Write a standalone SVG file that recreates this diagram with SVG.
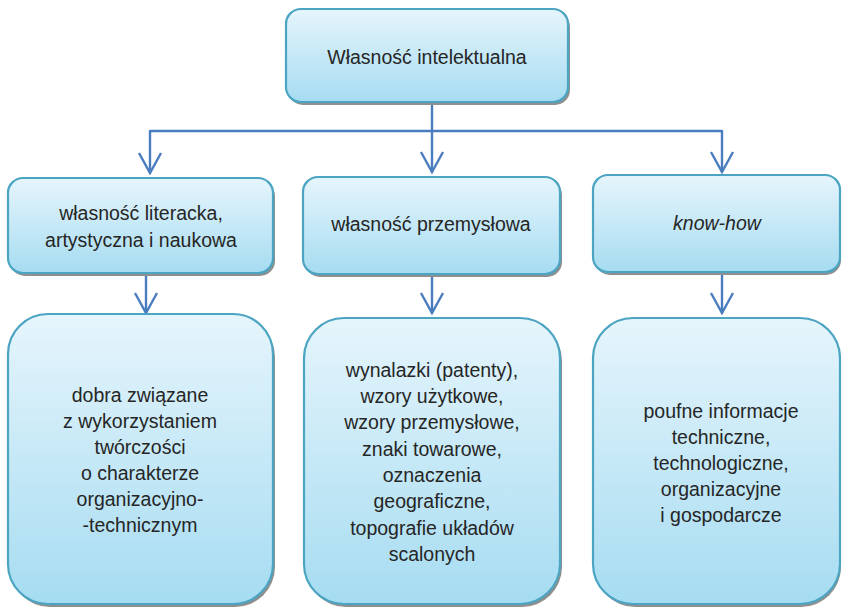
<svg xmlns="http://www.w3.org/2000/svg" width="843" height="607" viewBox="0 0 843 607">
<defs>
<linearGradient id="g" x1="0" y1="0" x2="0" y2="1">
<stop offset="0" stop-color="#e6f5fc"/>
<stop offset="1" stop-color="#a6dcf1"/>
</linearGradient>
<marker id="arr" markerUnits="userSpaceOnUse" orient="auto" refX="0" refY="0" markerWidth="30" markerHeight="30" viewBox="-25 -15 30 30" overflow="visible">
<path d="M-20,-11 L0,0 L-20,11" fill="none" stroke="#4a7cc0" stroke-width="2.4"/>
</marker>
</defs>
<style>
.box{fill:url(#g);stroke:#4aa4c2;stroke-width:2.2}
.sh{fill:#8f8f8f}
.t{font-family:"Liberation Sans",Arial,sans-serif;font-size:19.5px;fill:#262626;text-anchor:middle}
.c{fill:none;stroke:#4a7cc0;stroke-width:2.4}
</style>
<rect width="843" height="607" fill="#ffffff"/>
<g id="connectors">
<line class="c" x1="150" y1="131" x2="722" y2="131"/>
<line class="c" x1="432" y1="102" x2="432" y2="172" marker-end="url(#arr)"/>
<line class="c" x1="150" y1="130" x2="150" y2="173" marker-end="url(#arr)"/>
<line class="c" x1="722" y1="130" x2="722" y2="172" marker-end="url(#arr)"/>
<line class="c" x1="146" y1="274" x2="146" y2="313" marker-end="url(#arr)"/>
<line class="c" x1="432" y1="275" x2="432" y2="313" marker-end="url(#arr)"/>
<line class="c" x1="722" y1="273" x2="722" y2="313" marker-end="url(#arr)"/>
</g>
<g id="node-top">
<rect class="sh" x="288" y="12" width="282" height="93" rx="15"/>
<rect class="box" x="286" y="9" width="282" height="93" rx="15"/>
<text class="t" x="427" y="64">Własność intelektualna</text>
</g>
<g id="node-lit">
<rect class="sh" x="10" y="181" width="265" height="95" rx="15"/>
<rect class="box" x="8" y="178" width="265" height="95" rx="15"/>
<text class="t" x="141" y="220">własność literacka,</text>
<text class="t" x="141" y="247">artystyczna i naukowa</text>
</g>
<g id="node-prz">
<rect class="sh" x="305" y="180" width="257" height="97" rx="15"/>
<rect class="box" x="303" y="177" width="257" height="97" rx="15"/>
<text class="t" x="431" y="231">własność przemysłowa</text>
</g>
<g id="node-kh">
<rect class="sh" x="595" y="178" width="246" height="97" rx="15"/>
<rect class="box" x="593" y="175" width="247" height="97" rx="15"/>
<text class="t" x="717" y="230" font-style="italic">know-how</text>
</g>
<g id="node-lit-desc">
<rect class="sh" x="10" y="317" width="265" height="290" rx="40"/>
<rect class="box" x="8" y="314" width="265" height="290" rx="40"/>
<text class="t" x="140" y="402">dobra związane</text>
<text class="t" x="140" y="428">z wykorzystaniem</text>
<text class="t" x="140" y="454">twórczości</text>
<text class="t" x="140" y="480">o charakterze</text>
<text class="t" x="140" y="506">organizacyjno-</text>
<text class="t" x="140" y="532">-technicznym</text>
</g>
<g id="node-prz-desc">
<rect class="sh" x="306" y="321" width="256" height="286" rx="40"/>
<rect class="box" x="304" y="318" width="256" height="286" rx="40"/>
<text class="t" x="432" y="377">wynalazki (patenty),</text>
<text class="t" x="432" y="403">wzory użytkowe,</text>
<text class="t" x="432" y="429">wzory przemysłowe,</text>
<text class="t" x="432" y="456">znaki towarowe,</text>
<text class="t" x="432" y="482">oznaczenia</text>
<text class="t" x="432" y="508">geograficzne,</text>
<text class="t" x="432" y="535">topografie układów</text>
<text class="t" x="432" y="561">scalonych</text>
</g>
<g id="node-kh-desc">
<rect class="sh" x="595" y="321" width="246" height="286" rx="40"/>
<rect class="box" x="593" y="318" width="247" height="286" rx="40"/>
<text class="t" x="721" y="418">poufne informacje</text>
<text class="t" x="721" y="444">techniczne,</text>
<text class="t" x="721" y="470">technologiczne,</text>
<text class="t" x="721" y="496">organizacyjne</text>
<text class="t" x="721" y="522">i gospodarcze</text>
</g>
</svg>
